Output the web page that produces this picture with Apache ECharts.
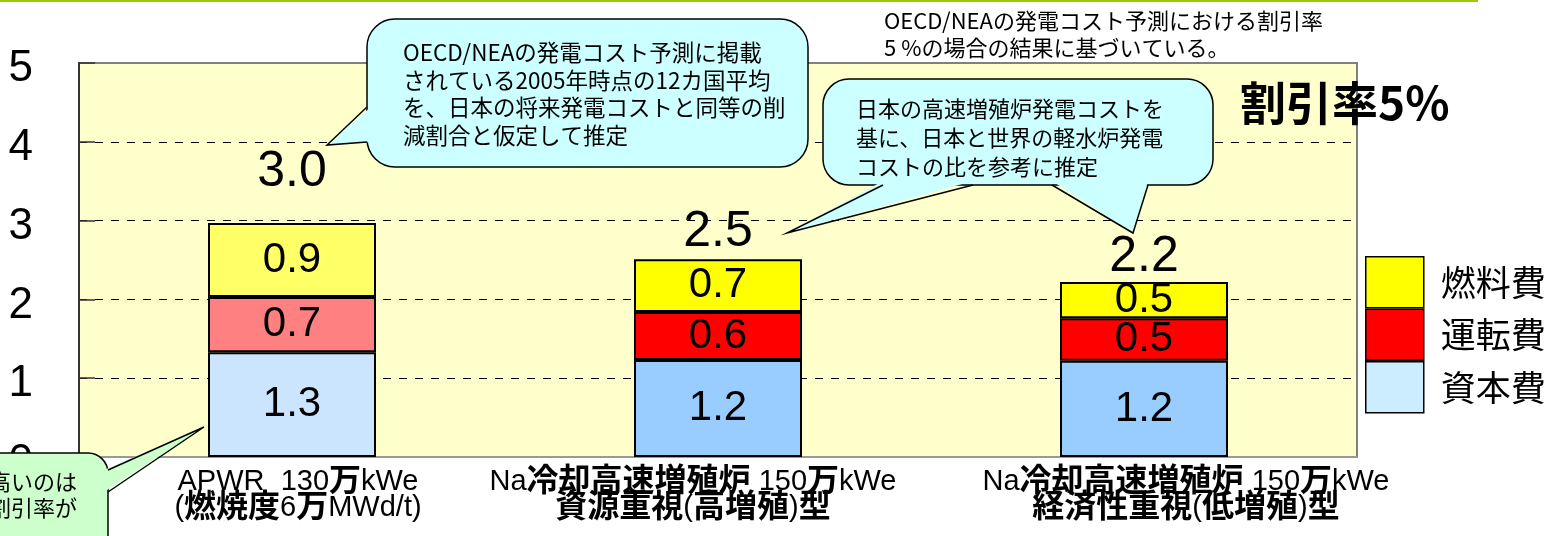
<!DOCTYPE html>
<html lang="ja">
<head>
<meta charset="utf-8">
<title>発電コスト比較（割引率5%）</title>
<script src="https://cdn.jsdelivr.net/npm/echarts@6.0.0/dist/echarts.min.js"></script>
<style>
  html, body { margin: 0; padding: 0; background: #fff; }
  #chart { width: 1564px; height: 536px; }
</style>
</head>
<body>
<div id="chart"></div>
<script>
// カテゴリ（炉型）
const categories = [
  'APWR  130万kWe\n(燃焼度6万MWd/t)',
  'Na冷却高速増殖炉 150万kWe\n資源重視(高増殖)型',
  'Na冷却高速増殖炉 150万kWe\n経済性重視(低増殖)型'
]
// 発電コスト内訳（積み上げ順：下から）
const capitalCost = [1.33, 1.23, 1.22]
const operationCost = [0.70, 0.61, 0.54]
const fuelCost = [0.94, 0.67, 0.46]
// 縦軸目盛
const yTicks = [0, 1, 2, 3, 4, 5]

const totals = categories.map((_, i) => capitalCost[i] + operationCost[i] + fuelCost[i])

const FONT = "'Liberation Sans', 'Noto Sans CJK JP', sans-serif"
const JP = "'Noto Sans CJK JP', sans-serif"

// 塗り色（APWRだけ淡い色）
const capitalColors = ['#CCE5FF', '#99CCFF', '#99CCFF']
const operationColors = ['#FF8080', '#FF0000', '#FF0000']
const fuelColors = ['#FFFF66', '#FFFF00', '#FFFF00']
const totalLabelGap = [26, 2, 0]
// 横軸ラベルの左右ずれ(px)
const labelShift = [6, -25, 42]

function stackSeries(name, values, colors, legendColor) {
  return {
    name: name,
    type: 'bar',
    stack: 'cost',
    barWidth: 168,
    itemStyle: { color: legendColor, borderColor: '#000', borderWidth: 2 },
    label: {
      show: true,
      position: 'inside',
      fontSize: 42,
      fontFamily: FONT,
      color: '#000',
      textBorderWidth: 0,
      formatter: p => p.value.toFixed(1)
    },
    data: values.map((v, i) => ({ value: v, itemStyle: { color: colors[i] } }))
  }
}

// 吹き出し（角丸四角 + 尖り）
function bubble(rect, r, fill, pointers, text) {
  const els = [{
    type: 'rect', z: 100,
    shape: { x: rect[0], y: rect[1], width: rect[2], height: rect[3], r: r },
    style: { fill: fill, stroke: '#000', lineWidth: 1.5 }
  }]
  pointers.forEach(p => {
    const [a, tip, b, inset] = p
    els.push({
      type: 'polygon', z: 101,
      shape: { points: [[a[0] + inset[0], a[1] + inset[1]], tip, [b[0] + inset[0], b[1] + inset[1]]] },
      style: { fill: fill, stroke: null }
    })
    els.push({
      type: 'polyline', z: 102,
      shape: { points: [a, tip, b] },
      style: { stroke: '#000', lineWidth: 1.5, fill: null }
    })
  })
  els.push({
    type: 'text', z: 103, x: text.x, y: text.y,
    style: { text: text.text, fontSize: text.size, fontFamily: JP, fill: '#000', lineHeight: text.lh }
  })
  return els
}

const graphics = [
  {
    type: 'line', z: 100,
    shape: { x1: 0, y1: 1, x2: 1478, y2: 1 },
    style: { stroke: '#99CC00', lineWidth: 2 }
  },
  {
    type: 'text', z: 100, x: 884, y: 7,
    style: {
      text: 'OECD/NEAの発電コスト予測における割引率\n5 %の場合の結果に基づいている。',
      fontSize: 22, fontFamily: JP, fill: '#000', lineHeight: 27
    }
  },
  {
    type: 'text', z: 110, x: 1240, y: 80,
    style: { text: '割引率5%', fontSize: 46, fontWeight: 'bold', fontFamily: JP, fill: '#000' }
  }
].concat(
  bubble([367, 19, 441, 148], 28, '#CCFFFF',
    [[[367, 107], [327, 145], [367, 142], [4, 0]]],
    { x: 403, y: 39, size: 22.5, lh: 27.5,
      text: 'OECD/NEAの発電コスト予測に掲載\nされている2005年時点の12カ国平均\nを、日本の将来発電コストと同等の削\n減割合と仮定して推定' }),
  bubble([823, 79, 390, 106], 26, '#CCFFFF',
    [[[883, 185], [787, 233], [973, 185], [0, -4]],
     [[1052, 185], [1133, 233], [1148, 185], [0, -4]]],
    { x: 856, y: 94, size: 22, lh: 29,
      text: '日本の高速増殖炉発電コストを\n基に、日本と世界の軽水炉発電\nコストの比を参考に推定' }),
  bubble([-30, 453, 138, 120], 20, '#CCFFCC',
    [[[108, 470], [204, 427], [108, 492], [-4, 0]]],
    { x: -11, y: 469, size: 22, lh: 26, text: '高いのは\n割引率が' })
)

const chart = echarts.init(document.getElementById('chart'))

const option = {
  animation: false,
  backgroundColor: '#fff',
  grid: {
    left: 79, right: 207, top: 63, bottom: 79,
    show: true,
    backgroundColor: '#FFFFCC',
    borderColor: '#808080',
    borderWidth: 2
  },
  legend: {
    data: ['燃料費', '運転費', '資本費'],
    orient: 'vertical',
    left: 1365,
    top: 256,
    padding: 0,
    itemWidth: 58,
    itemHeight: 51,
    itemGap: 0,
    icon: 'rect',
    selectedMode: false,
    itemStyle: { borderColor: '#000', borderWidth: 1.5 },
    textStyle: { fontSize: 35, fontFamily: JP, color: '#000', padding: [0, 0, 0, 12] }
  },
  xAxis: {
    type: 'category',
    data: categories,
    axisLine: { show: true, lineStyle: { color: '#999', width: 2 } },
    axisTick: { show: false },
    axisLabel: {
      interval: 0,
      margin: 12,
      fontSize: 29,
      fontFamily: FONT,
      color: '#000',
      lineHeight: 26,
      formatter: (v, i) => v.split('\n').map(l => {
        let s = l.replace(/([^\x00-\x7f]+)/g, '{b|$1}')
        if (labelShift[i] > 0) s = '{s' + i + '| }' + s
        else if (labelShift[i] < 0) s = s + '{s' + i + '| }'
        return s
      }).join('\n'),
      rich: {
        b: { fontWeight: 'bold', fontSize: 32, fontFamily: FONT, color: '#000', lineHeight: 26 },
        s0: { width: Math.abs(labelShift[0]) * 2, lineHeight: 26 },
        s1: { width: Math.abs(labelShift[1]) * 2, lineHeight: 26 },
        s2: { width: Math.abs(labelShift[2]) * 2, lineHeight: 26 }
      }
    }
  },
  yAxis: {
    type: 'value',
    min: yTicks[0],
    max: yTicks[yTicks.length - 1],
    interval: yTicks[1] - yTicks[0],
    axisLine: { show: true, lineStyle: { color: '#333', width: 2 } },
    axisTick: { show: true, inside: true, length: 16, lineStyle: { color: '#333', width: 1.5 } },
    axisLabel: {
      margin: 46,
      formatter: v => '{y|' + v + '}',
      rich: { y: { fontSize: 44, fontFamily: FONT, color: '#000', padding: [12, 0, 0, 0] } }
    },
    splitLine: {
      show: true,
      lineStyle: {
        color: ['rgba(0,0,0,0)', '#000', '#000', '#000', '#000', 'rgba(0,0,0,0)'],
        type: [8, 8],
        width: 1
      }
    }
  },
  series: [
    stackSeries('資本費', capitalCost, capitalColors, '#CCECFF'),
    stackSeries('運転費', operationCost, operationColors, '#FF0000'),
    stackSeries('燃料費', fuelCost, fuelColors, '#FFFF00'),
    {
      name: '合計',
      type: 'scatter',
      symbolSize: 0,
      silent: true,
      itemStyle: { color: '#000', opacity: 1 },
      label: {
        show: true,
        position: 'top',
        fontSize: 50,
        fontFamily: FONT,
        color: '#000',
        opacity: 1,
        formatter: p => p.value.toFixed(1)
      },
      data: totals.map((v, i) => ({ value: v, label: { distance: totalLabelGap[i] } }))
    }
  ],
  graphic: graphics
}

chart.setOption(option)
</script>
</body>
</html>
